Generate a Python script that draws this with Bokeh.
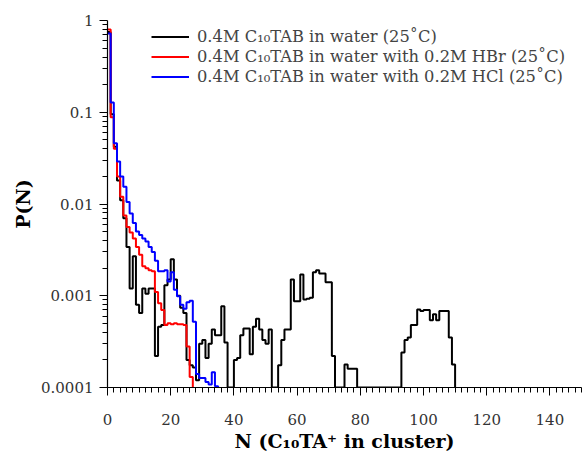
from bokeh.plotting import figure
from bokeh.models import Range1d, FixedTicker, CustomJSTickFormatter, Legend, LegendItem
from bokeh.embed import file_html
from bokeh.resources import INLINE

# P(N) histograms, bin k spans [k, k+1]
black_p = [0.75, 0.095, 0.042, 0.018, 0.011, 0.0070, 0.0034, 0.0012, 0.0027, 0.0008,
           0.00065, 0.0012, 0.00105, 0.0012, 0.0012, 0.00022, 0.00046, 0.00048, 0.0013, 0.0015,
           0.0025, 0.0015, 0.0010, 0.00074, 0.00065, 0.0002, 0.000175, 0.000165, 0.00012, 0.0003,
           0.00033, 0.00021, 0.0003, 0.00043, 0.00037, 0.00037, 0.00077, 0.00031, 0.0001, 0.0001,
           0.0002, 0.00021, 0.00037, 0.00044, 0.00044, 0.00023, 0.00046, 0.00056, 0.00043, 0.00033,
           0.0003, 0.00043, 0.0001, 0.0001, 0.000175, 0.00033, 0.00043, 0.00043, 0.0015, 0.00087,
           0.00087, 0.0017, 0.00091, 0.00093, 0.00095, 0.0018, 0.0019, 0.00175, 0.00175, 0.0014,
           0.0014, 0.00022, 0.0001, 0.0001, 0.0001, 0.000178, 0.00016, 0.00016, 0.00016, 0.0001,
           0.0001, 0.0001, 0.0001, 0.0001, 0.0001, 0.0001, 0.0001, 0.0001, 0.0001, 0.0001,
           0.0001, 0.0001, 0.0001, 0.00024, 0.00033, 0.00035, 0.00048, 0.00048, 0.00071, 0.00068,
           0.0007, 0.0007, 0.00054, 0.00063, 0.00054, 0.00068, 0.00068, 0.00068, 0.00035, 0.000178]
red_p = [0.80, 0.088, 0.040, 0.020, 0.012, 0.0075, 0.0056, 0.0049, 0.0042, 0.0034,
         0.0028, 0.0021, 0.0020, 0.0019, 0.00185, 0.0011, 0.00083, 0.0007, 0.00048, 0.0005,
         0.00049, 0.0005, 0.00049, 0.00049, 0.00048, 0.00028, 0.00013]
blue_p = [0.72, 0.128, 0.046, 0.029, 0.020, 0.0154, 0.0105, 0.0079, 0.0062, 0.0050,
          0.0046, 0.0042, 0.0039, 0.0034, 0.0030, 0.0024, 0.00185, 0.00185, 0.0019, 0.00143,
          0.0018, 0.00116, 0.00099, 0.0008, 0.00072, 0.00085, 0.00088, 0.00052, 0.00014, 0.000127,
          0.000127, 0.000115, 0.000108, 0.000147, 0.000103]

labels = ["0.4M C\u2081\u2080TAB in water (25\u02daC)",
          "0.4M C\u2081\u2080TAB in water with 0.2M HBr (25\u02daC)",
          "0.4M C\u2081\u2080TAB in water with 0.2M HCl (25\u02daC)"]
colors = ["black", "#ff0000", "#0000ff"]

x_major = [0, 20, 40, 60, 80, 100, 120, 140]
x_minor = [v for v in range(0, 151, 2)]
y_major = [1e-4, 1e-3, 1e-2, 1e-1, 1.0]
y_minor = [k * 10.0 ** e for e in range(-4, 0) for k in range(2, 10)]

FONT = "DejaVu Serif"
FLOOR = 1e-4

p = figure(width=585, height=454, x_axis_type="linear", y_axis_type="log",
           x_range=Range1d(0, 150), y_range=Range1d(FLOOR, 1.0),
           output_backend="svg", toolbar_location=None,
           min_border_left=107, min_border_right=4, min_border_top=20, min_border_bottom=66)
p.grid.visible = False
p.outline_line_color = None
p.background_fill_color = "white"
p.border_fill_color = "white"

def edges(vals):
    xs = list(range(len(vals))) + [len(vals)]
    ys = list(vals) + [FLOOR]
    return xs, ys

renderers = []
for vals, c in zip([black_p, red_p, blue_p], colors):
    xs, ys = edges(vals)
    r = p.step(xs, ys, mode="after", line_color=c, line_width=2)
    renderers.append(r)

legend = Legend(items=[LegendItem(label=l, renderers=[r]) for l, r in zip(labels, renderers)],
                location=(44, 301))
legend.label_text_font = FONT
legend.label_text_font_size = "16.3px"
legend.glyph_width = 38
legend.glyph_height = 17
legend.label_height = 17
legend.spacing = 1
legend.label_standoff = 8
legend.margin = 0
legend.padding = 0
legend.border_line_alpha = 0
legend.background_fill_alpha = 0
p.add_layout(legend)

xa = p.xaxis[0]
xa.ticker = FixedTicker(ticks=x_major, minor_ticks=x_minor)
xa.axis_label = "N (C\u2081\u2080TA\u207a in cluster)"
ya = p.yaxis[0]
ya.ticker = FixedTicker(ticks=y_major, minor_ticks=y_minor)
ya.formatter = CustomJSTickFormatter(code="return tick.toString();")
ya.axis_label = "P(N)"

for ax in (xa, ya):
    ax.axis_line_color = "black"
    ax.axis_line_width = 1.2
    ax.major_tick_line_color = "black"
    ax.minor_tick_line_color = "black"
    ax.major_tick_out = 8
    ax.major_tick_in = 0
    ax.minor_tick_out = 5
    ax.minor_tick_in = 0
    ax.major_label_text_font = FONT
    ax.major_label_text_font_size = "15px"
    ax.major_label_text_color = "#333333"
    ax.axis_label_text_font = FONT
    ax.axis_label_text_font_size = "19px"
    ax.axis_label_text_font_style = "bold"
    ax.axis_label_text_color = "black"
ya.major_label_standoff = 6
xa.major_label_standoff = 18
xa.axis_label_standoff = 2
ya.axis_label_standoff = 4

open("out.html", "w").write(file_html(p, INLINE))
